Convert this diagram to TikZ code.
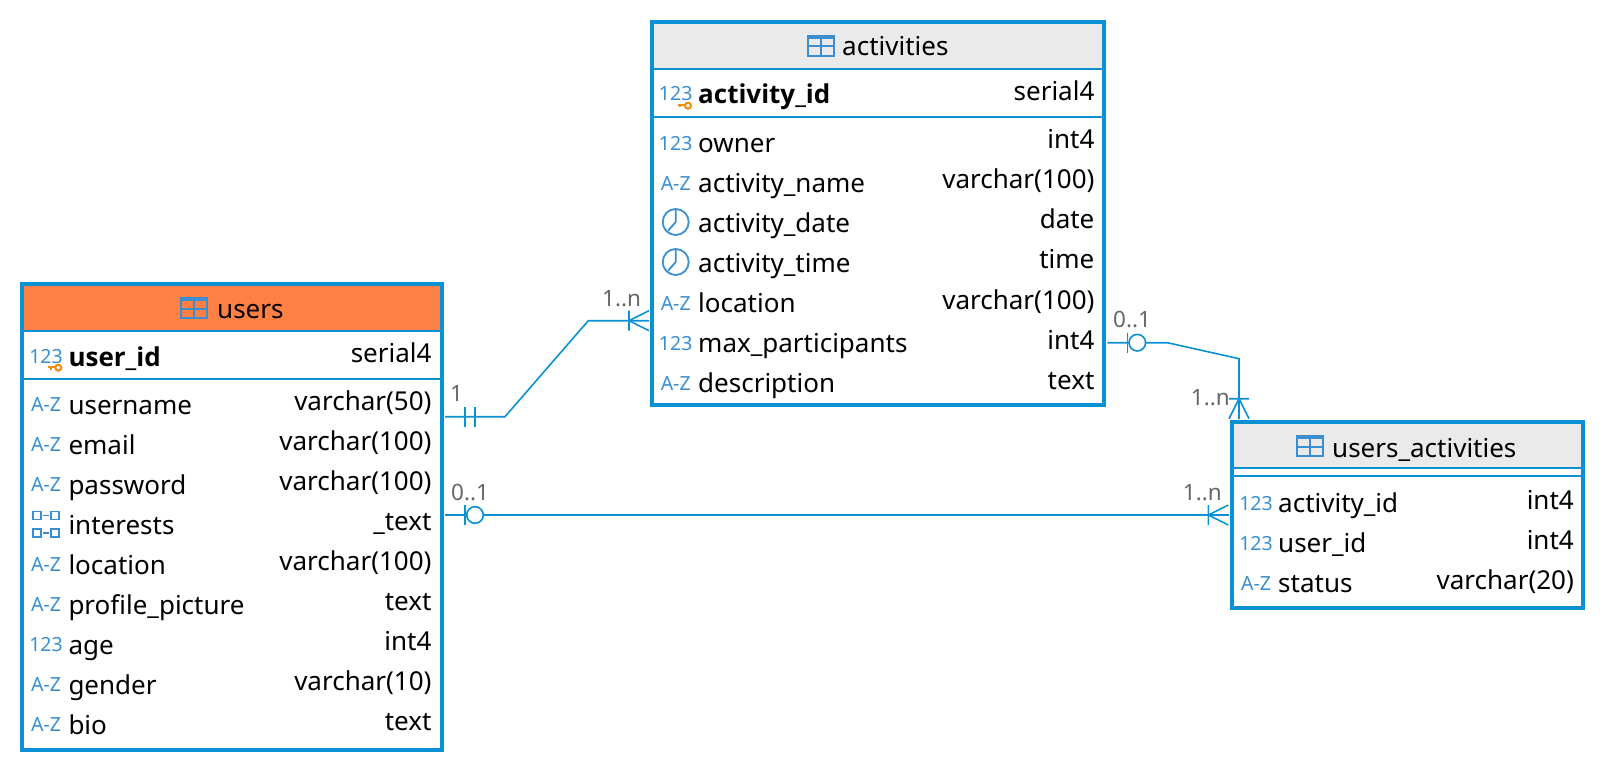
\documentclass[tikz,border=0pt]{standalone}
\usepackage{fontspec}
\setmainfont{Noto Sans}
\newfontfamily\keyfont{Open Sans}
\usepackage{xcolor}
\usetikzlibrary{calc, positioning}
\definecolor{edgeblue}{HTML}{0A91D3}
\definecolor{iconblue}{HTML}{3B8FD0}
\definecolor{keyorange}{HTML}{F48A0C}
\definecolor{hdrorange}{HTML}{FF8044}
\definecolor{hdrgrey}{HTML}{EAEAEA}
\definecolor{cardgrey}{HTML}{666666}
\tikzset{
  tablebox/.style={draw=edgeblue, line width=4pt, anchor=north west, inner sep=0pt, outer sep=0pt},
  hdrbox/.style={anchor=north west, inner sep=0pt, outer sep=0pt},
  sepline/.style={edgeblue, line width=2pt},
  conn/.style={edgeblue, line width=1.6pt},
  hdrtext/.style={anchor=base west, inner sep=0pt, font=\fontsize{26}{28}\selectfont},
  coltext/.style={anchor=base west, inner sep=0pt, font=\fontsize{26}{28}\selectfont},
  keytext/.style={anchor=base west, inner sep=0pt, font=\fontsize{26}{28}\keyfont\bfseries},
  typetext/.style={anchor=base east, inner sep=0pt, font=\fontsize{26}{28}\selectfont},
  cardtext/.style={anchor=base west, inner sep=0pt, text=cardgrey, font=\fontsize{22.5}{26}\selectfont},
  icontext/.style={anchor=base, inner sep=0pt, text=iconblue, font=\fontsize{19.5}{20}\selectfont},
  pics/numicon/.style={code={\node[icontext] (-lbl) at (0,0) {123};}},
  pics/azicon/.style={code={\node[icontext] (-lbl) at (0,0) {A-Z};}},
  pics/clockicon/.style={code={
    \draw[iconblue, line width=1.8pt] (0,-8.1) circle (13pt);
    \draw[iconblue, line width=1.8pt] (0,-20) -- (0,-8.1) -- (-7.5,0.5);}},
  pics/arrayicon/.style={code={
    \draw[iconblue, line width=1.6pt] (-13,-20.4) rectangle (-5,-12.4) (5,-20.4) rectangle (13,-12.4)
      (-13,-2.6) rectangle (-5,5.4) (5,-2.6) rectangle (13,5.4)
      (-2.7,-16.4) -- (2.7,-16.4) (-2.7,1.4) -- (2.7,1.4);}},
  pics/keyicon/.style={code={
    \draw[keyorange, line width=2pt] (12.3,4.7) circle (3pt);
    \draw[keyorange, line width=2pt] (2.3,4.2) -- (9,4.2) (4.5,4.2) -- (4.5,6.5);}},
  pics/tblicon/.style={code={
    \draw[iconblue, line width=2pt] (1,1) rectangle (27,21) (1,11.5) -- (27,11.5) (14,3) -- (14,21);
    \fill[iconblue] (0,0) rectangle (28,4);}},
  pics/crowfoot/.style={code={
    \draw[conn] (0,-10) -- (0,10) (0,0) -- (20,-10) (0,0) -- (20,10);}},
  pics/onetick/.style={code={\draw[conn] (0,-10) -- (0,10);}},
  pics/zeroone/.style={code={
    \draw[conn] (0,-10) -- (0,10);
    \draw[conn, fill=white] (10,0) circle (8.3pt);}}
}
\begin{document}
\begin{tikzpicture}[x=1pt, y=-1pt]
  \useasboundingbox (0,0) rectangle (1606,770);
  % headers
  \node[hdrbox, fill=hdrorange, minimum width=420pt, minimum height=47pt] (usershdr) at (22,284) {};
  \node[hdrbox, fill=hdrgrey, minimum width=452pt, minimum height=47pt] (acthdr) at (652,22) {};
  \node[hdrbox, fill=hdrgrey, minimum width=351pt, minimum height=47pt] (uahdr) at (1232,422) {};
  % tables
  \node[tablebox, minimum width=420pt, minimum height=466pt] (users) at (22,284) {};
  \node[tablebox, minimum width=452pt, minimum height=383pt] (activities) at (652,22) {};
  \node[tablebox, minimum width=351pt, minimum height=186pt] (usersact) at (1232,422) {};
  \draw[sepline] (usershdr.south west) -- (usershdr.south east);
  \draw[sepline] (22,378.7) -- (442,378.7);
  \draw[sepline] (652,69) -- (1104,69);
  \draw[sepline] (652,117.3) -- (1104,117.3);
  \draw[sepline] (1232,468) -- (1583,468);
  \draw[sepline] (1232,476) -- (1583,476);
  % titles
  \pic at (180,297) {tblicon};
  \node[hdrtext] (userstitle) at (217,318) {users};
  \pic at (807,35) {tblicon};
  \node[hdrtext] (acttitle) at (842,56) {activities};
  \pic at (1296,435) {tblicon};
  \node[hdrtext] (uatitle) at (1332,457.5) {users\_activities};
  % key rows
  \pic at (46,363) {numicon};
  \pic at (46,363) {keyicon};
  \node[keytext] (userskey) at (68.3,366) {user\_id};
  \node[typetext] (userskeyt) at (431.7,362.5) {serial4};
  \pic at (675.7,101) {numicon};
  \pic at (675.7,101) {keyicon};
  \node[keytext] (actkey) at (698,104) {activity\_id};
  \node[typetext] (actkeyt) at (1094.6,100.5) {serial4};
  % users
  \foreach \ic/\nm/\ty [count=\i from 0] in {azicon/username/varchar(50), azicon/email/varchar(100),
      azicon/password/varchar(100), arrayicon/interests/\_text, azicon/location/varchar(100),
      azicon/profile\_picture/text, numicon/age/int4, azicon/gender/varchar(10), azicon/bio/text} {
    \pic (usersi\i) at (46,{413.3+40*\i-1.6}) {\ic};
    \node[coltext] (usersc\i) at (68.3,{414+40*\i}) {\nm};
    \node[typetext] (userst\i) at (431.7,{410.5+40*\i}) {\ty};
  }
  % activities
  \foreach \ic/\nm/\ty [count=\i from 0] in {numicon/owner/int4, azicon/activity\_name/varchar(100),
      clockicon/activity\_date/date, clockicon/activity\_time/time, azicon/location/varchar(100),
      numicon/max\_participants/int4, azicon/description/text} {
    \pic (acti\i) at (675.7,{151.7+40*\i-1.6}) {\ic};
    \node[coltext] (actc\i) at (698,{152.4+40*\i}) {\nm};
    \node[typetext] (actt\i) at (1094.6,{149+40*\i}) {\ty};
  }
  % users_activities
  \foreach \ic/\nm/\ty [count=\i from 0] in {numicon/activity\_id/int4, numicon/user\_id/int4,
      azicon/status/varchar(20)} {
    \pic (uai\i) at (1256,{512+40*\i-1.6}) {\ic};
    \node[coltext] (uac\i) at (1278,{512.5+40*\i}) {\nm};
    \node[typetext] (uat\i) at (1574,{509.5+40*\i}) {\ty};
  }
  % connector ends
  \coordinate (usersone) at (445,416.7);
  \coordinate (usersonebend) at (505,416.7);
  \coordinate (actmanybend) at (588.3,320.7);
  \coordinate (actmany) at (649,320.7);
  \coordinate (usersopt) at (445,515);
  \coordinate (uamany) at (1229,515);
  \coordinate (actopt) at (1107.3,342.7);
  \coordinate (actoptbend) at (1167.3,342.7);
  \coordinate (uatopbend) at (1239,358.7);
  \coordinate (uatop) at (1239,419);
  \draw[conn] (usersone) -- (usersonebend) -- (actmanybend) -- (actmany);
  \draw[conn] (usersopt) -- (uamany);
  \draw[conn] (actopt) -- (actoptbend) -- (uatopbend) -- (uatop);
  % cardinalities
  \pic at (465,416.7) {onetick};
  \pic at (475,416.7) {onetick};
  \pic at (629,320.7) {crowfoot};
  \pic at (465,515) {zeroone};
  \pic at (1208.3,515) {crowfoot};
  \pic at (1127.3,342.7) {zeroone};
  \pic[rotate=-90] at (1239,398.7) {crowfoot};
  \node[cardtext] (cardone) at (450,401.7) {1};
  \node[cardtext] (cardmanya) at (602,306) {1..n};
  \node[cardtext] (cardoptu) at (451,500) {0..1};
  \node[cardtext] (cardopta) at (1113,327.7) {0..1};
  \node[cardtext] (cardmanyt) at (1190.7,405.7) {1..n};
  \node[cardtext] (cardmanyb) at (1182.7,500) {1..n};
\end{tikzpicture}
\end{document}
